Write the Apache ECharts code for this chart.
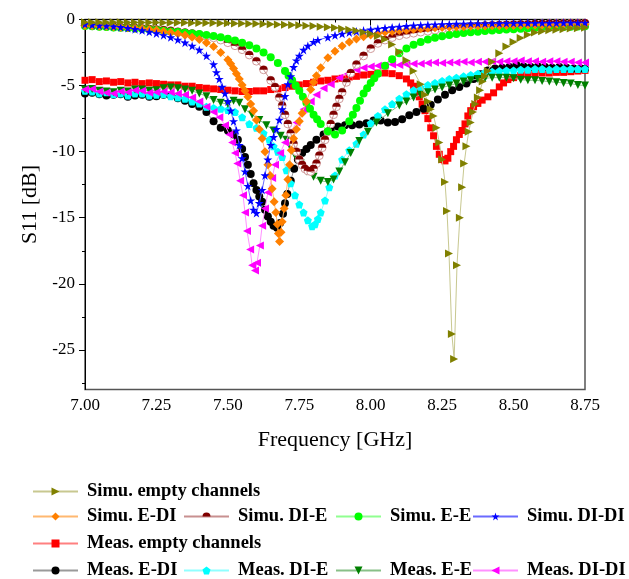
<!DOCTYPE html>
<html><head><meta charset="utf-8">
<script src="https://cdn.jsdelivr.net/npm/echarts@6/dist/echarts.min.js"></script>
<style>html,body{margin:0;padding:0;background:#fff}#c{width:629px;height:579px}</style>
</head><body><div id="c"></div>
<script>
// ---- data: [frequency GHz, S11 dB] ----
const simuEmpty = [[7.000,-0.20],[7.025,-0.20],[7.050,-0.20],[7.075,-0.21],[7.100,-0.21],[7.125,-0.21],[7.150,-0.22],[7.175,-0.22],[7.200,-0.22],[7.225,-0.23],[7.250,-0.23],[7.275,-0.24],[7.300,-0.24],[7.325,-0.25],[7.350,-0.25],[7.375,-0.26],[7.400,-0.26],[7.425,-0.27],[7.450,-0.27],[7.475,-0.28],[7.500,-0.29],[7.525,-0.30],[7.550,-0.31],[7.575,-0.32],[7.600,-0.33],[7.625,-0.34],[7.650,-0.36],[7.675,-0.38],[7.700,-0.40],[7.725,-0.42],[7.750,-0.44],[7.775,-0.47],[7.800,-0.50],[7.825,-0.54],[7.850,-0.58],[7.875,-0.63],[7.900,-0.70],[7.925,-0.77],[7.950,-0.86],[7.975,-0.96],[8.000,-1.08],[8.025,-1.25],[8.050,-1.50],[8.075,-1.90],[8.100,-2.45],[8.125,-3.10],[8.150,-3.90],[8.175,-4.90],[8.190,-5.70],[8.200,-6.20],[8.210,-6.80],[8.220,-7.30],[8.230,-8.20],[8.240,-9.30],[8.250,-10.60],[8.260,-12.30],[8.267,-14.50],[8.274,-17.70],[8.284,-23.80],[8.292,-25.70],[8.302,-18.60],[8.312,-15.00],[8.320,-12.70],[8.327,-10.90],[8.335,-9.60],[8.343,-8.50],[8.350,-7.80],[8.358,-7.00],[8.366,-6.40],[8.375,-5.90],[8.383,-5.35],[8.392,-4.70],[8.400,-4.30],[8.410,-3.90],[8.425,-3.20],[8.450,-2.55],[8.475,-2.05],[8.500,-1.70],[8.525,-1.40],[8.550,-1.15],[8.575,-0.98],[8.600,-0.88],[8.625,-0.82],[8.650,-0.77],[8.675,-0.73],[8.700,-0.69],[8.725,-0.66],[8.750,-0.63]];
const simuEDI = [[7.000,-0.45],[7.025,-0.47],[7.050,-0.50],[7.075,-0.52],[7.100,-0.55],[7.125,-0.58],[7.150,-0.62],[7.175,-0.66],[7.200,-0.70],[7.225,-0.76],[7.250,-0.82],[7.275,-0.90],[7.300,-0.98],[7.325,-1.08],[7.350,-1.20],[7.375,-1.35],[7.400,-1.52],[7.425,-1.75],[7.450,-2.05],[7.475,-2.50],[7.500,-3.05],[7.510,-3.35],[7.520,-3.70],[7.530,-4.10],[7.540,-4.50],[7.550,-4.95],[7.560,-5.40],[7.570,-5.85],[7.580,-6.40],[7.590,-6.90],[7.600,-7.60],[7.610,-8.30],[7.620,-9.00],[7.630,-10.00],[7.640,-11.00],[7.648,-11.80],[7.655,-12.80],[7.662,-13.80],[7.668,-14.60],[7.673,-15.50],[7.677,-16.20],[7.681,-16.80],[7.686,-16.10],[7.690,-15.30],[7.697,-14.30],[7.703,-13.30],[7.710,-12.10],[7.716,-11.00],[7.722,-9.90],[7.730,-9.00],[7.740,-8.30],[7.750,-7.70],[7.760,-7.10],[7.775,-6.20],[7.790,-5.30],[7.800,-4.75],[7.810,-4.25],[7.825,-3.65],[7.850,-2.90],[7.875,-2.40],[7.900,-2.00],[7.925,-1.70],[7.950,-1.47],[7.975,-1.30],[8.000,-1.17],[8.025,-1.06],[8.050,-0.97],[8.075,-0.90],[8.100,-0.84],[8.125,-0.79],[8.150,-0.74],[8.175,-0.70],[8.200,-0.66],[8.225,-0.63],[8.250,-0.60],[8.275,-0.58],[8.300,-0.56],[8.325,-0.54],[8.350,-0.52],[8.375,-0.50],[8.400,-0.49],[8.425,-0.48],[8.450,-0.47],[8.475,-0.46],[8.500,-0.45],[8.525,-0.44],[8.550,-0.43],[8.575,-0.42],[8.600,-0.41],[8.625,-0.41],[8.650,-0.40],[8.675,-0.40],[8.700,-0.39],[8.725,-0.39],[8.750,-0.38]];
const simuDIE = [[7.000,-0.45],[7.025,-0.47],[7.050,-0.50],[7.075,-0.52],[7.100,-0.55],[7.125,-0.58],[7.150,-0.61],[7.175,-0.64],[7.200,-0.68],[7.225,-0.72],[7.250,-0.76],[7.275,-0.80],[7.300,-0.85],[7.325,-0.92],[7.350,-0.99],[7.375,-1.06],[7.400,-1.15],[7.425,-1.26],[7.450,-1.38],[7.475,-1.55],[7.500,-1.75],[7.525,-1.98],[7.550,-2.28],[7.575,-2.68],[7.600,-3.15],[7.625,-3.80],[7.650,-4.60],[7.665,-5.10],[7.680,-5.90],[7.690,-6.50],[7.700,-7.20],[7.710,-7.90],[7.720,-8.60],[7.730,-9.40],[7.740,-10.00],[7.750,-10.60],[7.760,-11.00],[7.770,-11.30],[7.780,-11.45],[7.790,-11.50],[7.800,-11.30],[7.810,-10.90],[7.820,-10.30],[7.830,-9.70],[7.840,-9.10],[7.850,-8.50],[7.860,-7.90],[7.870,-7.20],[7.880,-6.60],[7.890,-6.00],[7.900,-5.50],[7.915,-4.75],[7.930,-4.05],[7.950,-3.40],[7.975,-2.75],[8.000,-2.20],[8.025,-1.80],[8.050,-1.55],[8.075,-1.36],[8.100,-1.22],[8.125,-1.12],[8.150,-1.03],[8.175,-0.95],[8.200,-0.88],[8.225,-0.80],[8.250,-0.72],[8.275,-0.66],[8.300,-0.61],[8.325,-0.56],[8.350,-0.52],[8.375,-0.49],[8.400,-0.46],[8.425,-0.44],[8.450,-0.42],[8.475,-0.40],[8.500,-0.38],[8.525,-0.36],[8.550,-0.35],[8.575,-0.33],[8.600,-0.32],[8.625,-0.31],[8.650,-0.30],[8.675,-0.29],[8.700,-0.28],[8.725,-0.28],[8.750,-0.27]];
const simuEE = [[7.000,-0.50],[7.025,-0.52],[7.050,-0.54],[7.075,-0.57],[7.100,-0.60],[7.125,-0.62],[7.150,-0.65],[7.175,-0.68],[7.200,-0.72],[7.225,-0.76],[7.250,-0.80],[7.275,-0.85],[7.300,-0.90],[7.325,-0.95],[7.350,-1.00],[7.375,-1.05],[7.400,-1.10],[7.425,-1.17],[7.450,-1.25],[7.475,-1.35],[7.500,-1.45],[7.525,-1.58],[7.550,-1.75],[7.575,-1.95],[7.600,-2.20],[7.625,-2.50],[7.650,-2.85],[7.675,-3.30],[7.700,-3.90],[7.7125,-4.25],[7.725,-4.60],[7.7375,-5.00],[7.750,-5.40],[7.7625,-5.85],[7.775,-6.30],[7.7875,-6.75],[7.800,-7.20],[7.8125,-7.55],[7.825,-7.90],[7.850,-8.45],[7.875,-8.70],[7.900,-8.40],[7.925,-7.70],[7.9375,-7.20],[7.950,-6.70],[7.9625,-6.15],[7.975,-5.60],[7.9875,-5.20],[8.000,-4.80],[8.0125,-4.45],[8.025,-4.10],[8.050,-3.50],[8.075,-3.00],[8.100,-2.55],[8.125,-2.20],[8.150,-1.92],[8.175,-1.70],[8.200,-1.52],[8.225,-1.38],[8.250,-1.27],[8.275,-1.18],[8.300,-1.10],[8.325,-1.03],[8.350,-0.97],[8.375,-0.92],[8.400,-0.87],[8.425,-0.83],[8.450,-0.79],[8.475,-0.76],[8.500,-0.73],[8.525,-0.70],[8.550,-0.67],[8.575,-0.65],[8.600,-0.62],[8.625,-0.60],[8.650,-0.58],[8.675,-0.56],[8.700,-0.54],[8.725,-0.53],[8.750,-0.52]];
const simuDIDI = [[7.000,-0.35],[7.025,-0.40],[7.050,-0.45],[7.075,-0.48],[7.100,-0.52],[7.125,-0.58],[7.150,-0.65],[7.175,-0.73],[7.200,-0.82],[7.225,-0.93],[7.250,-1.05],[7.275,-1.19],[7.300,-1.35],[7.325,-1.53],[7.350,-1.75],[7.375,-2.00],[7.400,-2.30],[7.425,-2.75],[7.450,-3.40],[7.460,-4.00],[7.470,-4.50],[7.480,-5.10],[7.490,-5.60],[7.500,-6.20],[7.510,-6.90],[7.520,-7.70],[7.530,-8.40],[7.540,-9.50],[7.550,-10.50],[7.560,-11.50],[7.570,-12.60],[7.580,-13.70],[7.590,-14.40],[7.600,-14.65],[7.610,-13.90],[7.620,-12.90],[7.630,-11.80],[7.640,-10.60],[7.650,-9.50],[7.660,-8.90],[7.670,-8.30],[7.680,-7.60],[7.690,-6.80],[7.700,-5.80],[7.710,-4.90],[7.720,-4.30],[7.730,-3.60],[7.740,-3.10],[7.750,-2.75],[7.765,-2.30],[7.780,-2.00],[7.800,-1.70],[7.815,-1.55],[7.850,-1.35],[7.875,-1.20],[7.900,-1.08],[7.925,-0.98],[7.950,-0.90],[7.975,-0.83],[8.000,-0.77],[8.025,-0.70],[8.050,-0.65],[8.075,-0.60],[8.100,-0.55],[8.125,-0.50],[8.150,-0.46],[8.175,-0.43],[8.200,-0.40],[8.225,-0.38],[8.250,-0.36],[8.275,-0.35],[8.300,-0.33],[8.325,-0.32],[8.350,-0.31],[8.375,-0.30],[8.400,-0.30],[8.425,-0.29],[8.450,-0.29],[8.475,-0.28],[8.500,-0.28],[8.525,-0.27],[8.550,-0.27],[8.575,-0.27],[8.600,-0.26],[8.625,-0.26],[8.650,-0.26],[8.675,-0.25],[8.700,-0.25],[8.725,-0.25],[8.750,-0.25]];
const measEmpty = [[7.000,-4.60],[7.025,-4.55],[7.050,-4.70],[7.075,-4.65],[7.100,-4.75],[7.125,-4.70],[7.150,-4.80],[7.175,-4.75],[7.200,-4.85],[7.225,-4.80],[7.250,-4.85],[7.275,-4.90],[7.300,-4.95],[7.325,-4.95],[7.350,-5.05],[7.375,-5.05],[7.400,-5.15],[7.425,-5.20],[7.450,-5.25],[7.475,-5.30],[7.500,-5.35],[7.525,-5.40],[7.550,-5.45],[7.575,-5.45],[7.600,-5.40],[7.625,-5.40],[7.650,-5.30],[7.675,-5.25],[7.700,-5.15],[7.725,-5.05],[7.750,-4.95],[7.775,-4.85],[7.800,-4.75],[7.825,-4.65],[7.850,-4.60],[7.875,-4.50],[7.900,-4.45],[7.925,-4.35],[7.950,-4.30],[7.975,-4.20],[8.000,-4.15],[8.025,-4.05],[8.050,-4.05],[8.075,-4.10],[8.100,-4.25],[8.125,-4.50],[8.140,-4.80],[8.150,-5.05],[8.160,-5.40],[8.170,-5.85],[8.180,-6.40],[8.190,-6.90],[8.200,-7.50],[8.210,-8.20],[8.220,-8.80],[8.230,-9.60],[8.240,-10.20],[8.250,-10.60],[8.260,-10.70],[8.270,-10.50],[8.280,-10.00],[8.290,-9.60],[8.300,-9.10],[8.310,-8.70],[8.320,-8.40],[8.330,-7.90],[8.340,-7.30],[8.350,-6.90],[8.360,-6.60],[8.375,-6.35],[8.390,-6.10],[8.410,-5.85],[8.430,-5.55],[8.450,-5.10],[8.465,-4.80],[8.480,-4.55],[8.500,-4.40],[8.525,-4.25],[8.550,-4.15],[8.575,-4.10],[8.600,-4.05],[8.625,-4.05],[8.650,-4.00],[8.675,-4.00],[8.700,-3.95],[8.725,-3.90],[8.750,-3.85]];
const measEDI = [[7.000,-5.60],[7.025,-5.55],[7.050,-5.65],[7.075,-5.75],[7.100,-5.70],[7.125,-5.65],[7.150,-5.85],[7.175,-5.75],[7.200,-5.70],[7.225,-5.85],[7.250,-5.80],[7.275,-5.70],[7.300,-5.75],[7.325,-5.95],[7.350,-6.15],[7.375,-6.40],[7.400,-6.60],[7.425,-7.00],[7.450,-7.70],[7.475,-8.20],[7.500,-8.40],[7.520,-8.70],[7.535,-9.10],[7.550,-9.80],[7.560,-10.40],[7.570,-11.00],[7.580,-11.70],[7.590,-12.40],[7.600,-12.90],[7.610,-13.40],[7.620,-13.80],[7.630,-14.40],[7.640,-14.90],[7.650,-15.30],[7.660,-15.60],[7.672,-15.75],[7.683,-15.40],[7.693,-14.70],[7.700,-13.90],[7.708,-13.20],[7.720,-12.20],[7.732,-11.30],[7.745,-10.60],[7.760,-10.10],[7.775,-9.80],[7.790,-9.50],[7.810,-9.10],[7.835,-8.70],[7.860,-8.35],[7.885,-8.10],[7.910,-8.00],[7.935,-8.00],[7.960,-7.95],[7.985,-7.85],[8.010,-7.65],[8.035,-7.65],[8.060,-7.80],[8.085,-7.75],[8.110,-7.55],[8.135,-7.25],[8.160,-7.00],[8.185,-6.75],[8.210,-6.45],[8.235,-6.05],[8.260,-5.70],[8.285,-5.35],[8.310,-5.10],[8.335,-4.85],[8.360,-4.50],[8.385,-4.15],[8.410,-3.85],[8.435,-3.70],[8.460,-3.65],[8.485,-3.60],[8.510,-3.45],[8.535,-3.55],[8.560,-3.60],[8.585,-3.55],[8.610,-3.60],[8.635,-3.65],[8.660,-3.60],[8.685,-3.65],[8.710,-3.70],[8.735,-3.70],[8.750,-3.75]];
const measDIE = [[7.000,-5.40],[7.025,-5.45],[7.050,-5.60],[7.075,-5.50],[7.100,-5.65],[7.125,-5.60],[7.150,-5.75],[7.175,-5.60],[7.200,-5.60],[7.225,-5.75],[7.250,-5.70],[7.275,-5.65],[7.300,-5.80],[7.325,-5.90],[7.350,-6.00],[7.375,-6.20],[7.400,-6.35],[7.425,-6.60],[7.450,-6.70],[7.475,-6.75],[7.500,-6.85],[7.525,-7.00],[7.550,-7.40],[7.575,-7.90],[7.600,-8.20],[7.625,-8.60],[7.645,-9.10],[7.660,-9.60],[7.675,-10.00],[7.690,-10.40],[7.705,-11.40],[7.720,-12.40],[7.735,-13.30],[7.750,-14.00],[7.765,-14.60],[7.780,-15.20],[7.795,-15.65],[7.805,-15.50],[7.815,-15.10],[7.825,-14.60],[7.840,-13.70],[7.855,-12.70],[7.875,-11.80],[7.900,-10.60],[7.925,-9.90],[7.950,-9.40],[7.975,-8.70],[8.000,-7.85],[8.025,-7.30],[8.050,-6.80],[8.075,-6.40],[8.100,-6.00],[8.125,-5.65],[8.150,-5.35],[8.175,-5.15],[8.200,-4.95],[8.225,-4.80],[8.250,-4.65],[8.275,-4.50],[8.300,-4.40],[8.325,-4.30],[8.350,-4.20],[8.375,-4.10],[8.400,-4.00],[8.425,-3.95],[8.450,-3.90],[8.475,-3.85],[8.500,-3.85],[8.525,-3.80],[8.550,-3.80],[8.575,-3.75],[8.600,-3.75],[8.625,-3.80],[8.650,-3.75],[8.675,-3.75],[8.700,-3.75],[8.725,-3.75],[8.750,-3.75]];
const measEE = [[7.000,-5.30],[7.025,-5.25],[7.050,-5.40],[7.075,-5.45],[7.100,-5.50],[7.125,-5.40],[7.150,-5.45],[7.175,-5.30],[7.200,-5.30],[7.225,-5.40],[7.250,-5.35],[7.275,-5.20],[7.300,-5.15],[7.325,-5.20],[7.350,-5.30],[7.375,-5.40],[7.400,-5.60],[7.425,-5.80],[7.450,-6.10],[7.475,-6.30],[7.500,-6.40],[7.520,-6.15],[7.540,-6.30],[7.560,-6.80],[7.585,-7.20],[7.610,-7.60],[7.635,-8.00],[7.660,-8.40],[7.685,-8.80],[7.705,-9.10],[7.720,-9.70],[7.735,-10.30],[7.755,-10.90],[7.775,-11.50],[7.800,-11.90],[7.825,-12.20],[7.850,-12.30],[7.870,-12.10],[7.890,-11.50],[7.910,-10.80],[7.930,-10.10],[7.960,-9.20],[7.990,-8.50],[8.020,-7.80],[8.060,-7.10],[8.100,-6.50],[8.125,-6.20],[8.150,-5.90],[8.175,-5.70],[8.200,-5.50],[8.225,-5.30],[8.250,-5.15],[8.275,-5.00],[8.300,-4.85],[8.325,-4.70],[8.350,-4.60],[8.375,-4.50],[8.400,-4.45],[8.425,-4.40],[8.450,-4.40],[8.475,-4.40],[8.500,-4.45],[8.525,-4.55],[8.550,-4.60],[8.575,-4.60],[8.600,-4.65],[8.625,-4.70],[8.650,-4.75],[8.675,-4.80],[8.700,-4.85],[8.725,-4.95],[8.750,-5.00]];
const measDIDI = [[7.000,-5.30],[7.025,-5.25],[7.050,-5.45],[7.075,-5.55],[7.100,-5.60],[7.125,-5.45],[7.150,-5.50],[7.175,-5.35],[7.200,-5.40],[7.225,-5.55],[7.250,-5.50],[7.275,-5.45],[7.300,-5.50],[7.325,-5.60],[7.350,-5.70],[7.375,-5.90],[7.400,-6.20],[7.425,-6.60],[7.450,-7.00],[7.470,-7.40],[7.490,-8.00],[7.505,-8.70],[7.515,-9.30],[7.525,-10.10],[7.533,-10.90],[7.543,-12.20],[7.553,-13.30],[7.560,-14.60],[7.567,-16.00],[7.578,-17.40],[7.585,-18.60],[7.595,-19.00],[7.602,-18.40],[7.612,-17.10],[7.620,-15.60],[7.630,-14.30],[7.640,-13.10],[7.655,-12.00],[7.665,-11.00],[7.683,-10.10],[7.700,-9.30],[7.718,-8.60],[7.740,-7.80],[7.765,-6.80],[7.790,-6.20],[7.810,-5.70],[7.835,-5.20],[7.860,-4.90],[7.890,-4.40],[7.920,-4.10],[7.950,-3.80],[7.975,-3.65],[8.000,-3.55],[8.025,-3.50],[8.050,-3.45],[8.075,-3.40],[8.100,-3.45],[8.125,-3.40],[8.150,-3.35],[8.175,-3.35],[8.200,-3.30],[8.225,-3.25],[8.250,-3.30],[8.275,-3.25],[8.300,-3.25],[8.325,-3.20],[8.350,-3.25],[8.375,-3.20],[8.400,-3.20],[8.425,-3.15],[8.450,-3.20],[8.475,-3.15],[8.500,-3.15],[8.525,-3.10],[8.550,-3.15],[8.575,-3.15],[8.600,-3.20],[8.625,-3.15],[8.650,-3.15],[8.675,-3.20],[8.700,-3.20],[8.725,-3.25],[8.750,-3.25]];

const yTickValues = [0, -5, -10, -15, -20, -25];
const yMinorValues = [-2.5, -7.5, -12.5, -17.5, -22.5, -27.5];

const SYM = {
  triRight: 'path://M0,0L10,5L0,10Z',
  triDown: 'path://M0,0L10,0L5,10Z',
  triLeft: 'path://M10,0L0,5L10,10Z',
  star: 'path://M50,0L61.17,34.63L97.55,34.55L68.07,55.87L79.39,90.45L50,69L20.61,90.45L31.93,55.87L2.45,34.55L38.83,34.63Z',
  pentagon: 'path://M50,0L97.55,34.55L79.39,90.45L20.61,90.45L2.45,34.55Z',
  halfTop: 'path://M0,5A5,5 0 0 1 10,5Z M5,10L5.01,10'
};

function mk(name, data, symbol, size, color, lineColor, z, extra) {
  return Object.assign({
    name, type: 'line', data, symbol, symbolSize: size, showSymbol: true,
    z, itemStyle: { color, borderWidth: 0 },
    lineStyle: { color: lineColor, width: 1 },
    emphasis: { disabled: true }, animation: false, clip: true
  }, extra || {});
}

const series = [
  mk('Meas. empty channels', measEmpty, 'rect', 7, '#ff0000', '#ff8080', 2),
  mk('Meas. E-DI', measEDI, 'circle', 8, '#000000', '#9a9a9a', 3),
  mk('Meas. DI-E', measDIE, SYM.pentagon, 8, '#00ffff', '#90ffff', 4),
  mk('Meas. E-E', measEE, SYM.triDown, 8, '#008000', '#88c088', 5),
  mk('Meas. DI-DI', measDIDI, SYM.triLeft, 8, '#ff00ff', '#ff90ff', 6),
  mk('Simu. DI-E base', simuDIE, 'circle', 8, '#ffffff', 'rgba(0,0,0,0)', 7, { itemStyle: { color: '#ffffff', borderColor: '#d09a9a', borderWidth: 1 } }),
  mk('Simu. DI-E', simuDIE, SYM.halfTop, 8, '#800000', '#c89090', 8),
  mk('Simu. E-E', simuEE, 'circle', 8, '#00ff00', '#90ff90', 9),
  mk('Simu. E-DI', simuEDI, 'diamond', 9, '#ff8000', '#ffb870', 10),
  mk('Simu. DI-DI', simuDIDI, SYM.star, 9, '#0000ff', '#6a6aff', 11),
  mk('Simu. empty channels', simuEmpty, SYM.triRight, 8, '#808000', '#c8c890', 12)
];

const LFONT = { fontFamily: 'Liberation Serif', fontWeight: 'bold', fontSize: 18.5, color: '#000', padding: [0, 0, 0, 4] };
function lg(name, left, top) {
  return { data: [name], left, top, padding: 0, itemWidth: 45, itemHeight: 10, selectedMode: false, textStyle: LFONT };
}
const rowY = [482, 507, 534, 561];
const colX = [32, 183, 335, 472];

const option = {
  backgroundColor: '#fff',
  animation: false,
  grid: { left: 85, right: 44, top: 19.5, bottom: 189.5, show: true, borderColor: '#555', borderWidth: 1.5, containLabel: false },
  legend: [
    lg('Simu. empty channels', colX[0], rowY[0]),
    lg('Simu. E-DI', colX[0], rowY[1]),
    lg('Simu. DI-E', colX[1], rowY[1]),
    lg('Simu. E-E', colX[2], rowY[1]),
    lg('Simu. DI-DI', colX[3], rowY[1]),
    lg('Meas. empty channels', colX[0], rowY[2]),
    lg('Meas. E-DI', colX[0], rowY[3]),
    lg('Meas. DI-E', colX[1], rowY[3]),
    lg('Meas. E-E', colX[2], rowY[3]),
    lg('Meas. DI-DI', colX[3], rowY[3])
  ],
  xAxis: {
    type: 'value', min: 7, max: 8.75, interval: 0.25,
    axisLine: { show: true, lineStyle: { color: '#000', width: 1 } },
    axisTick: { show: true, inside: false, length: 6, lineStyle: { color: '#000' } },
    minorTick: { show: true, splitNumber: 2, length: 3, lineStyle: { color: '#000' } },
    splitLine: { show: false },
    axisLabel: { formatter: v => v.toFixed(2), fontFamily: 'Liberation Serif', fontSize: 17, color: '#000', margin: 8 },
    name: 'Frequency [GHz]', nameLocation: 'middle', nameGap: 40,
    nameTextStyle: { fontFamily: 'Liberation Serif', fontSize: 22, color: '#000' }
  },
  yAxis: [
    {
      type: 'value', min: -28, max: 0,
      axisLine: { show: true, lineStyle: { color: '#000', width: 1 } },
      axisTick: { show: true, inside: false, length: 6, customValues: yTickValues, lineStyle: { color: '#000' } },
      axisLabel: { customValues: yTickValues, formatter: v => String(v), fontFamily: 'Liberation Serif', fontSize: 17, color: '#000', margin: 10 },
      splitLine: { show: false },
      name: 'S11 [dB]', nameLocation: 'middle', nameGap: 44,
      nameTextStyle: { fontFamily: 'Liberation Serif', fontSize: 22, color: '#000' }
    },
    {
      type: 'value', min: -28, max: 0, position: 'left',
      axisLine: { show: false },
      axisTick: { show: true, inside: false, length: 3, customValues: yMinorValues, lineStyle: { color: '#000' } },
      axisLabel: { show: false },
      splitLine: { show: false }
    }
  ],
  series
};

const chart = echarts.init(document.getElementById('c'), null, { renderer: 'canvas' });
chart.setOption(option);
</script>
</body></html>
